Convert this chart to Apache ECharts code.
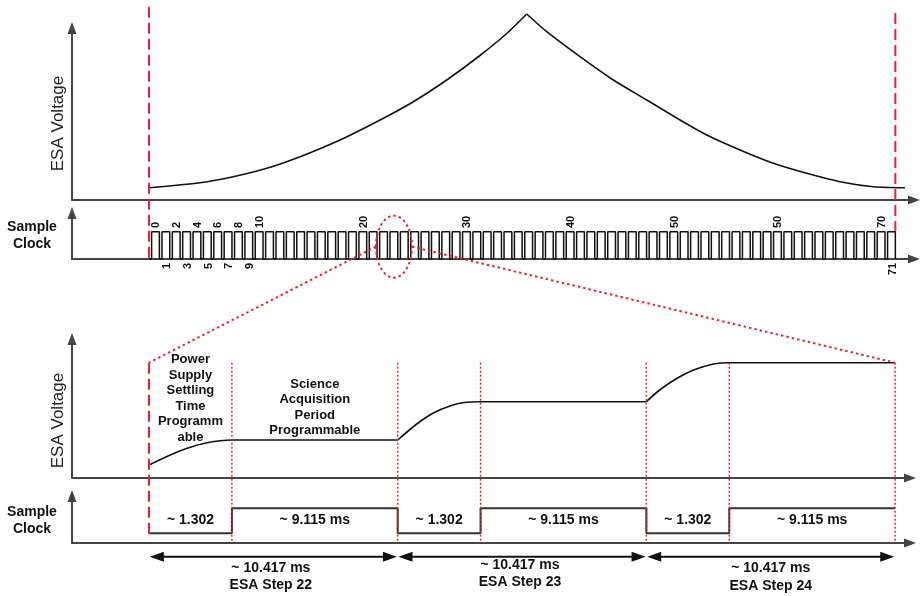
<!DOCTYPE html>
<html><head><meta charset="utf-8">
<script src="https://cdn.jsdelivr.net/npm/echarts@6/dist/echarts.min.js"></script>
<style>html,body{margin:0;padding:0;background:#fff}#c{width:921px;height:596px}</style>
</head><body><div id="c"></div>
<script>
// ================= DATA =================
// Upper panel: ESA voltage over one sweep (x = ESA step index, y = relative voltage)
const sweepUpStep   = [0, 4.92, 8.13, 11.36, 14.57, 18.43, 22.29, 25.5, 28.72, 31.93, 34.51, 36.44];
const sweepUpVolt   = [12.3, 17.3, 23.3, 31.7, 43.3, 60, 80, 98.3, 120, 144.5, 166.5, 186];
const sweepDownStep = [36.44, 38.37, 41.58, 44.79, 48.02, 51.23, 53.81, 57.02, 60.23, 63.45, 66.66, 69.88, 72.93];
const sweepDownVolt = [186, 168.3, 143.3, 120, 100, 80, 65, 50, 36.7, 26.7, 18.3, 13.3, 12.3];
const sweepBounds   = [0, 72];

// Sample clock over the sweep
const clockSteps    = 72;
const clockLowShare = 0.25;
const clockHigh     = 27.3;
const clockLow      = 0;
const clockTopLabelSteps    = [0, 2, 4, 6, 8, 10, 20, 30, 40, 50, 60, 70];
const clockTopLabelTexts    = ['0', '2', '4', '6', '8', '10', '20', '30', '40', '50', '50', '70'];
const clockBottomLabelSteps = [1, 3, 5, 7, 9, 71];
const clockBottomLabelTexts = ['1', '3', '5', '7', '9', '71'];

// Zoom ellipse around steps 22-24
const zoomCenter = [23.63, 12.3];
const zoomHalf   = [1.74, 31];

// Lower panel: ESA steps 22-24 (x: settling part = 1 unit, acquisition part = 2 units)
const stepNames  = ['ESA Step 22', 'ESA Step 23', 'ESA Step 24'];
const stepStart  = [0, 3, 6];
const settleEnd  = [1, 4, 7];
const stepEnd    = [3, 6, 9];
const step22X = [0, 0.21, 0.46, 0.7, 1, 3];
const step22V = [13, 21.3, 29.7, 35.3, 38, 38];
const step23X = [3, 3.23, 3.43, 3.63, 3.8, 4, 6];
const step23V = [38, 54, 65, 72, 75.5, 76.3, 76.3];
const step24X = [6, 6.16, 6.37, 6.57, 6.81, 7, 9];
const step24V = [76.3, 88, 99.7, 108, 114, 115.3, 115.3];
const detailTop = 115.3;

const detailClockX = [0, 1, 1, 3, 3, 4, 4, 6, 6, 7, 7, 9];
const detailClockV = [9.7, 9.7, 34.7, 34.7, 9.7, 9.7, 34.7, 34.7, 9.7, 9.7, 34.7, 34.7];
const settleText = '~ 1.302';
const acqText    = '~ 9.115 ms';
const stepText   = '~ 10.417 ms';
const settleNote = 'Power\nSupply\nSettling\nTime\nProgramm\nable';
const acqNote    = 'Science\nAcquisition\nPeriod\nProgrammable';

// ================= CHART =================
const FONT = '"Liberation Sans", Arial, Helvetica, sans-serif';
const RED = '#ee1f35';
const INK = '#111111';
const AXIS = '#444444';

function axisLine() {
  return { show: true, onZero: false, symbol: ['none', 'triangle'], symbolSize: [9, 12],
           lineStyle: { color: AXIS, width: 2 } };
}
function ax(i, min, max) {
  return { type: 'value', gridIndex: i, min: min, max: max, axisLine: axisLine(),
           axisTick: { show: false }, axisLabel: { show: false }, splitLine: { show: false } };
}
function zip(xs, ys) { return xs.map((x, i) => [x, ys[i]]); }

function lineSeries(gi, data, opts) {
  return Object.assign({ type: 'line', xAxisIndex: gi, yAxisIndex: gi, data: data,
    showSymbol: false, symbol: 'none', clip: false, silent: true, animation: false,
    lineStyle: { color: INK, width: 1.6 }, z: 3 }, opts || {});
}
function vlineSeries(gi, rows, color, width, dash) {
  return { type: 'custom', xAxisIndex: gi, yAxisIndex: gi, clip: false, silent: true, z: 6,
    data: rows,
    renderItem: function (params, api) {
      const a = api.coord([api.value(0), api.value(1)]);
      const b = api.coord([api.value(0), api.value(2)]);
      return { type: 'line', shape: { x1: a[0], y1: a[1], x2: b[0], y2: b[1] },
               style: { stroke: color, lineWidth: width, lineDash: dash, fill: null } };
    } };
}
function textSeries(gi, xs, ys, texts, st) {
  return { type: 'custom', xAxisIndex: gi, yAxisIndex: gi, clip: false, silent: true, z: 8,
    data: zip(xs, ys),
    renderItem: function (params, api) {
      const p = api.coord([api.value(0), api.value(1)]);
      return { type: 'text', x: p[0], y: p[1], rotation: st.rotation || 0,
        style: { text: texts[params.dataIndex], font: st.font, fill: st.fill || INK,
                 align: st.align || 'center', verticalAlign: st.verticalAlign || 'middle',
                 lineHeight: st.lineHeight } };
    } };
}
function arrowSeries(gi, x0s, x1s, level) {
  return { type: 'custom', xAxisIndex: gi, yAxisIndex: gi, clip: false, silent: true, z: 7,
    data: x0s.map((x, i) => [x, x1s[i], level]),
    renderItem: function (params, api) {
      const a = api.coord([api.value(0), api.value(2)]);
      const b = api.coord([api.value(1), api.value(2)]);
      const L = 14, H = 5;
      a[0] += 0.8; b[0] -= 0.8;
      return { type: 'group', children: [
        { type: 'line', shape: { x1: a[0] + L - 1, y1: a[1], x2: b[0] - L + 1, y2: b[1] },
          style: { stroke: INK, lineWidth: 2 } },
        { type: 'polygon', shape: { points: [[a[0], a[1]], [a[0] + L, a[1] - H], [a[0] + L, a[1] + H]] },
          style: { fill: INK } },
        { type: 'polygon', shape: { points: [[b[0], b[1]], [b[0] - L, b[1] - H], [b[0] - L, b[1] + H]] },
          style: { fill: INK } }
      ] };
    } };
}

// overview clock waveform from the pulse count and low share
const clockData = [];
for (let k = 0; k < clockSteps; k++) {
  clockData.push([k, clockLow], [k + clockLowShare, clockLow], [k + clockLowShare, clockHigh],
                 [k + 1, clockHigh], [k + 1, clockLow]);
}

const mid = (a, b) => a.map((v, i) => (v + b[i]) / 2);
const boundaryX = settleEnd.concat(stepEnd).filter((v, i, s) => s.indexOf(v) === i);

const option = {
  animation: false,
  backgroundColor: '#ffffff',
  grid: [
    { left: 72, top: 28, width: 842, height: 172 },
    { left: 72, top: 213, width: 842, height: 46 },
    { left: 72, top: 339, width: 838, height: 139 },
    { left: 72, top: 496, width: 838, height: 47 }
  ],
  xAxis: [ax(0, -7.43, 73.8), ax(1, -7.43, 73.8), ax(2, -0.9288, 9.18), ax(3, -0.9288, 9.18)],
  yAxis: [ax(0, 0, 172), ax(1, 0, 46), ax(2, 0, 139), ax(3, 0, 47)],
  series: [
    // upper sweep
    lineSeries(0, zip(sweepUpStep, sweepUpVolt), { smooth: 0.25 }),
    lineSeries(0, zip(sweepDownStep, sweepDownVolt), { smooth: 0.25 }),
    vlineSeries(0, [[sweepBounds[0], 193.3, -58], [sweepBounds[1], 187, -31]], RED, 2, [11, 5]),
    // overview clock
    lineSeries(1, clockData, { lineStyle: { color: INK, width: 1.5 } }),
    textSeries(1, clockTopLabelSteps.map(s => s + 0.7), clockTopLabelSteps.map(() => 31), clockTopLabelTexts,
      { font: 'bold 11px ' + FONT, align: 'left', rotation: Math.PI / 2 }),
    textSeries(1, clockBottomLabelSteps.map(s => s + 0.75), clockBottomLabelSteps.map(() => -4), clockBottomLabelTexts,
      { font: 'bold 11px ' + FONT, align: 'right', rotation: Math.PI / 2 }),
    { type: 'custom', xAxisIndex: 1, yAxisIndex: 1, clip: false, silent: true, z: 9,
      data: [[zoomCenter[0], zoomCenter[1], zoomHalf[0], zoomHalf[1]]],
      renderItem: function (params, api) {
        const c = api.coord([api.value(0), api.value(1)]);
        const s = api.size([api.value(2), api.value(3)]);
        return { type: 'ellipse', shape: { cx: c[0], cy: c[1], rx: s[0], ry: s[1] },
                 style: { fill: 'none', stroke: RED, lineWidth: 2, lineDash: [2.5, 3] } };
      } },
    // detail voltage
    lineSeries(2, zip(step22X, step22V), { smooth: 0.3 }),
    lineSeries(2, zip(step23X, step23V), { smooth: 0.3 }),
    lineSeries(2, zip(step24X, step24V), { smooth: 0.3 }),
    vlineSeries(2, [[stepStart[0], detailTop, -60]], RED, 2, [11, 5]),
    vlineSeries(2, boundaryX.map(x => [x, detailTop, -65]), RED, 1.5, [2, 2]),
    textSeries(2, [mid(stepStart, settleEnd)[0]], [79.5], [settleNote],
      { font: 'bold 13px ' + FONT, lineHeight: 15.5 }),
    textSeries(2, [mid(settleEnd, stepEnd)[0]], [70.5], [acqNote],
      { font: 'bold 13px ' + FONT, lineHeight: 15.5 }),
    // detail clock
    lineSeries(3, zip(detailClockX, detailClockV), { lineStyle: { color: '#333', width: 2 } }),
    textSeries(3, mid(stepStart, settleEnd), [23, 23, 23], [settleText, settleText, settleText],
      { font: 'bold 14px ' + FONT }),
    textSeries(3, mid(settleEnd, stepEnd), [23, 23, 23], [acqText, acqText, acqText],
      { font: 'bold 14px ' + FONT }),
    arrowSeries(3, stepStart, stepEnd, -13.7),
    textSeries(3, mid(stepStart, stepEnd).map((v, i) => v - [0.03, 0.025, 0][i]), [-25, -22, -25],
      [stepText, stepText, stepText], { font: 'bold 14px ' + FONT }),
    textSeries(3, mid(stepStart, stepEnd).map((v, i) => v - [0.03, 0.025, 0][i]), [-42.5, -38.7, -43],
      stepNames, { font: 'bold 14px ' + FONT })
  ]
};

const chart = echarts.init(document.getElementById('c'), null, { renderer: 'canvas' });
chart.setOption(option);

// zoom guide lines: from the ellipse sides (overview clock) to the detail panel corners
const eL = chart.convertToPixel({ gridIndex: 1 }, [zoomCenter[0] - zoomHalf[0], zoomCenter[1]]);
const eR = chart.convertToPixel({ gridIndex: 1 }, [zoomCenter[0] + zoomHalf[0], zoomCenter[1]]);
const dL = chart.convertToPixel({ gridIndex: 2 }, [stepStart[0], detailTop]);
const dR = chart.convertToPixel({ gridIndex: 2 }, [stepEnd[2], detailTop]);
const guide = { stroke: RED, lineWidth: 2, lineDash: [2.5, 3] };
chart.setOption({
  graphic: [
    { type: 'line', z: 10, silent: true, shape: { x1: eL[0], y1: eL[1], x2: dL[0], y2: dL[1] }, style: guide },
    { type: 'line', z: 10, silent: true, shape: { x1: eR[0], y1: eR[1], x2: dR[0], y2: dR[1] }, style: guide },
    { type: 'text', x: 58, y: 123.5, rotation: Math.PI / 2, silent: true,
      style: { text: 'ESA Voltage', font: '17px ' + FONT, fill: '#222', align: 'center', verticalAlign: 'middle' } },
    { type: 'text', x: 58, y: 420.5, rotation: Math.PI / 2, silent: true,
      style: { text: 'ESA Voltage', font: '17px ' + FONT, fill: '#222', align: 'center', verticalAlign: 'middle' } },
    { type: 'text', x: 32, y: 236, silent: true,
      style: { text: 'Sample\nClock', font: 'bold 14px ' + FONT, fill: INK, align: 'center', verticalAlign: 'middle', lineHeight: 17 } },
    { type: 'text', x: 32, y: 521, silent: true,
      style: { text: 'Sample\nClock', font: 'bold 14px ' + FONT, fill: INK, align: 'center', verticalAlign: 'middle', lineHeight: 17 } }
  ]
});
</script></body></html>
